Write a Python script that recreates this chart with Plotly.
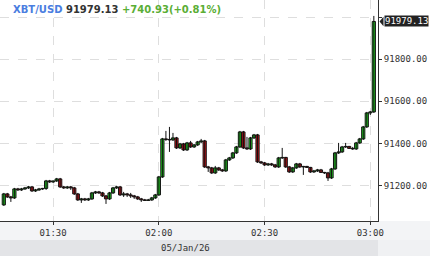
import pandas as pd
import plotly.graph_objects as go

# ---- data (1-minute candles, 05 Jan 2026, from 01:16) ----
start_time = "2026-01-05 01:16:00"

open_ = [91108.4, 91160.6, 91146.3, 91141.6, 91184.3, 91179.6, 91184.3, 91189.1, 91193.8, 91174.8,
         91179.6, 91184.3, 91186.7, 91222.3, 91217.5, 91222.3, 91231.8, 91193.8, 91189.1, 91193.8,
         91189.1, 91160.6, 91132.1, 91136.9, 91132.1, 91136.9, 91165.3, 91170.1, 91165.3, 91151.1,
         91136.9, 91165.3, 91189.1, 91193.8, 91155.8, 91160.6, 91155.8, 91151.1, 91146.3, 91136.9,
         91132.1, 91129.7, 91132.1, 91141.6, 91155.8, 91241.3, 91421.6, 91419.2, 91416.9, 91426.4,
         91378.9, 91397.9, 91369.4, 91402.6, 91383.6, 91393.1, 91407.4, 91412.1, 91288.7, 91284.0,
         91260.2, 91284.0, 91274.5, 91269.7, 91321.9, 91331.4, 91355.2, 91383.6, 91454.8, 91378.9,
         91374.2, 91426.4, 91440.6, 91312.5, 91307.7, 91298.2, 91303.0, 91298.2, 91288.7, 91331.4,
         91333.8, 91288.7, 91265.0, 91284.0, 91303.0, 91288.7, 91291.1, 91286.3, 91265.0, 91269.7,
         91274.5, 91262.6, 91260.2, 91236.5, 91279.2, 91355.2, 91359.9, 91383.6, 91386.0, 91376.5,
         91374.2, 91402.6, 91421.6, 91478.6, 91545.0, 91549.8]
high = [91165.3, 91165.3, 91151.1, 91189.1, 91189.1, 91189.1, 91193.8, 91198.5, 91198.5, 91184.3,
        91189.1, 91189.1, 91227.0, 91227.0, 91222.3, 91236.5, 91236.5, 91198.5, 91198.5, 91198.5,
        91193.8, 91165.3, 91141.6, 91141.6, 91141.6, 91170.1, 91174.8, 91174.8, 91170.1, 91155.8,
        91170.1, 91193.8, 91198.5, 91198.5, 91170.1, 91165.3, 91165.3, 91155.8, 91151.1, 91141.6,
        91136.9, 91136.9, 91146.3, 91160.6, 91246.0, 91426.4, 91459.6, 91478.6, 91450.1, 91431.1,
        91402.6, 91402.6, 91407.4, 91412.1, 91397.9, 91412.1, 91421.6, 91416.9, 91293.5, 91288.7,
        91293.5, 91288.7, 91279.2, 91326.7, 91336.2, 91359.9, 91388.4, 91459.6, 91459.6, 91431.1,
        91431.1, 91445.3, 91445.3, 91317.2, 91312.5, 91307.7, 91307.7, 91303.0, 91336.2, 91378.9,
        91336.2, 91293.5, 91288.7, 91307.7, 91307.7, 91293.5, 91293.5, 91288.7, 91274.5, 91279.2,
        91279.2, 91265.0, 91265.0, 91284.0, 91359.9, 91402.6, 91388.4, 91402.6, 91388.4, 91383.6,
        91407.4, 91426.4, 91483.3, 91549.8, 91554.5, 92005.4]
low = [91103.6, 91141.6, 91122.6, 91136.9, 91174.8, 91174.8, 91179.6, 91184.3, 91170.1, 91170.1,
       91174.8, 91179.6, 91179.6, 91212.8, 91212.8, 91217.5, 91189.1, 91184.3, 91184.3, 91179.6,
       91155.8, 91127.4, 91117.9, 91127.4, 91127.4, 91132.1, 91160.6, 91160.6, 91146.3, 91113.1,
       91132.1, 91160.6, 91184.3, 91151.1, 91146.3, 91146.3, 91141.6, 91136.9, 91132.1, 91122.6,
       91127.4, 91127.4, 91127.4, 91136.9, 91151.1, 91236.5, 91412.1, 91359.9, 91412.1, 91374.2,
       91374.2, 91364.7, 91364.7, 91378.9, 91378.9, 91388.4, 91402.6, 91284.0, 91265.0, 91255.5,
       91255.5, 91269.7, 91265.0, 91265.0, 91317.2, 91326.7, 91350.4, 91378.9, 91374.2, 91369.4,
       91369.4, 91421.6, 91307.7, 91303.0, 91293.5, 91293.5, 91293.5, 91284.0, 91284.0, 91326.7,
       91284.0, 91260.2, 91260.2, 91279.2, 91284.0, 91250.8, 91284.0, 91260.2, 91260.2, 91265.0,
       91260.2, 91255.5, 91222.3, 91231.8, 91274.5, 91350.4, 91355.1, 91378.9, 91374.2, 91369.4,
       91369.4, 91397.9, 91416.9, 91473.8, 91535.3, 91545.0]
close = [91160.6, 91146.3, 91141.6, 91184.3, 91179.6, 91184.3, 91189.1, 91193.8, 91174.8, 91179.6,
         91184.3, 91186.7, 91222.3, 91217.5, 91222.3, 91231.8, 91193.8, 91189.1, 91193.8, 91189.1,
         91160.6, 91132.1, 91136.9, 91132.1, 91136.9, 91165.3, 91170.1, 91165.3, 91151.1, 91136.9,
         91165.3, 91189.1, 91193.8, 91155.8, 91160.6, 91155.8, 91151.1, 91146.3, 91136.9, 91132.1,
         91129.7, 91132.1, 91141.6, 91155.8, 91241.3, 91421.6, 91419.2, 91416.9, 91426.4, 91378.9,
         91397.9, 91369.4, 91402.6, 91383.6, 91393.1, 91407.4, 91412.1, 91288.7, 91284.0, 91260.2,
         91284.0, 91274.5, 91269.7, 91321.9, 91331.4, 91355.2, 91383.6, 91454.8, 91378.9, 91374.2,
         91426.4, 91440.6, 91312.5, 91307.7, 91298.2, 91303.0, 91298.2, 91288.7, 91331.4, 91333.8,
         91288.7, 91265.0, 91284.0, 91303.0, 91288.7, 91291.1, 91286.3, 91265.0, 91269.7, 91274.5,
         91262.6, 91260.2, 91236.5, 91279.2, 91355.2, 91359.9, 91383.6, 91386.0, 91376.5, 91374.2,
         91402.6, 91421.6, 91478.6, 91545.0, 91549.8, 91979.13]

y_ticks = [91200, 91400, 91600, 91800, 92000]
y_tick_text = ["91200.00", "91400.00", "91600.00", "91800.00", ""]  # 92000 hidden under price tag
x_ticks = ["2026-01-05 01:30", "2026-01-05 02:00", "2026-01-05 02:30", "2026-01-05 03:00"]
x_tick_text = ["01:30", "02:00", "02:30", "03:00"]
symbol = "XBT/USD"
change_text = "+740.93(+0.81%)"
date_text = "05/Jan/26"

times = pd.date_range(start_time, periods=len(close), freq="min")
x_range = ["2026-01-05 01:14:55", "2026-01-05 03:02:11"]
y_range = [91032, 92081]

MONO = "DejaVu Sans Mono"
UP = "#22d422"
DOWN = "#c8141a"

# wicks
wx, wy = [], []
for t, h, l in zip(times, high, low):
    wx += [t, t, None]
    wy += [l, h, None]

body_base = [min(o, c) for o, c in zip(open_, close)]
body_len = [max(abs(c - o), 1.5) for o, c in zip(open_, close)]
body_col = [UP if c >= o else DOWN for o, c in zip(open_, close)]

fig = go.Figure()
fig.add_trace(go.Scatter(x=wx, y=wy, mode="lines", line=dict(color="#111111", width=1),
                         hoverinfo="skip"))
fig.add_trace(go.Bar(x=times, y=body_len, base=body_base, width=54000,
                     marker=dict(color=body_col, line=dict(color="#111111", width=1)),
                     hoverinfo="skip"))

fig.update_layout(
    width=430, height=256,
    margin=dict(l=0, r=52, t=0, b=35),
    paper_bgcolor="#ffffff", plot_bgcolor="#ffffff",
    showlegend=False,
    xaxis=dict(
        range=x_range,
        tickvals=x_ticks, ticktext=x_tick_text,
        showgrid=True, gridcolor="#dedede", griddash="dash", gridwidth=1,
        showline=True, linecolor="#333333", linewidth=1,
        ticks="outside", ticklen=3, tickcolor="#333333",
        tickfont=dict(family=MONO, size=9, color="#333333"),
        zeroline=False,
    ),
    yaxis=dict(
        range=y_range, side="right",
        tickvals=y_ticks, ticktext=y_tick_text,
        showgrid=True, gridcolor="#dedede", griddash="dash", gridwidth=1,
        showline=True, linecolor="#333333", linewidth=1, mirror=True,
        ticks="outside", ticklen=3, tickcolor="#333333",
        tickfont=dict(family=MONO, size=9, color="#333333"),
        zeroline=False,
    ),
)

plot_h = 256 - 35
plot_w = 430 - 52
# bottom bands
fig.add_shape(type="rect", xref="paper", yref="paper", x0=-0.01, x1=430 / plot_w + 0.01,
              y0=-19 / plot_h, y1=0, fillcolor="#f3f4f6", line=dict(width=0), layer="below")
fig.add_shape(type="rect", xref="paper", yref="paper", x0=-0.01, x1=1.0,
              y0=-40 / plot_h, y1=-19 / plot_h, fillcolor="#e3e4e7", line=dict(width=0), layer="below")
fig.add_shape(type="rect", xref="paper", yref="paper", x0=1.0, x1=430 / plot_w + 0.01,
              y0=-40 / plot_h, y1=-19 / plot_h, fillcolor="#f0f1f3", line=dict(width=0), layer="below")

fig.add_annotation(xref="paper", yref="paper", x=0.49, y=-(248 - plot_h) / plot_h,
                   text=date_text, showarrow=False, xanchor="center", yanchor="middle",
                   font=dict(family=MONO, size=9, color="#333333"))

# title
fig.add_annotation(
    xref="paper", yref="paper", x=11 / plot_w, y=1 - 10 / plot_h, xanchor="left", yanchor="middle",
    showarrow=False,
    text=(f"<b><span style='color:#4a7de0'>{symbol}</span> "
          f"<span style='color:#333333'>{close[-1]:.2f}</span> "
          f"<span style='color:#5aae35'>{change_text}</span></b>"),
    font=dict(family="DejaVu Sans", size=10),
)

# last-price tag
yp = (close[-1] - y_range[0]) / (y_range[1] - y_range[0])
hh = 4.8 / plot_h
x_tip = 1 + 1.5 / plot_w
x_box = 1 + 5.5 / plot_w
fig.add_shape(type="path", xref="paper", yref="paper",
              path=f"M {x_tip},{yp} L {x_box},{yp + hh} L {x_box},{yp - hh} Z",
              fillcolor="#222222", line=dict(width=0), layer="above")
fig.add_annotation(xref="paper", yref="paper", x=x_box, y=yp, xanchor="left", yanchor="middle",
                   showarrow=False, text=f"{close[-1]:.2f}", bgcolor="#222222", borderpad=0,
                   font=dict(family=MONO, size=9, color="#ffffff"))

fig.write_html("out.html")
